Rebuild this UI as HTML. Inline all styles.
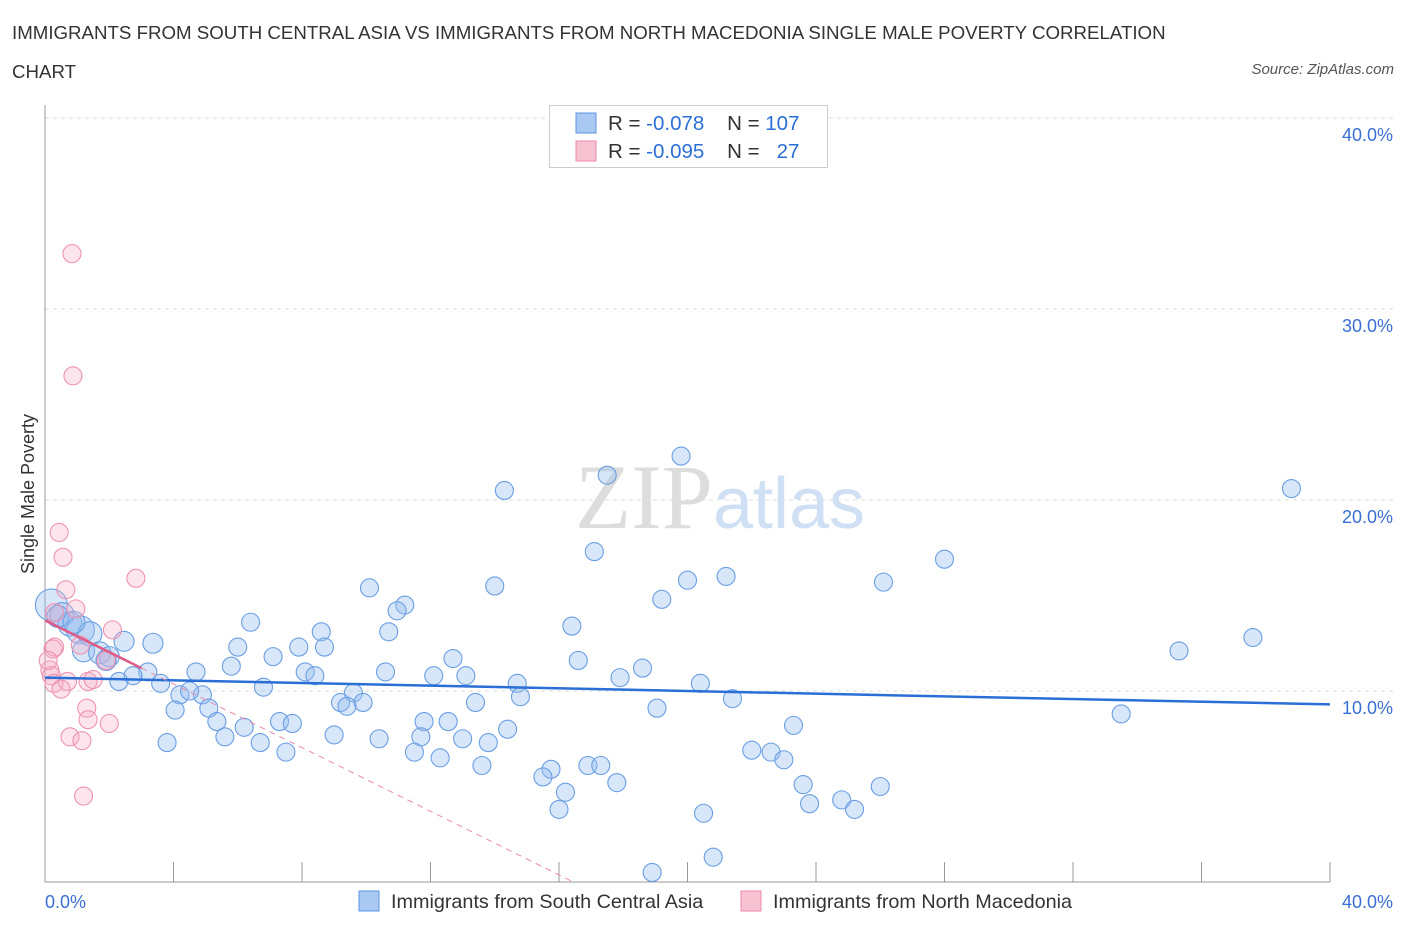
<!DOCTYPE html>
<html><head><meta charset="utf-8">
<style>
body{margin:0;background:#fff;font-family:"Liberation Sans",sans-serif;}
#wrap{position:relative;width:1406px;height:930px;overflow:hidden;}
.t{position:absolute;color:#333;font-size:18.7px;}
</style></head><body>
<div id="wrap">
<div class="t" style="left:12px;top:22px;">IMMIGRANTS FROM SOUTH CENTRAL ASIA VS IMMIGRANTS FROM NORTH MACEDONIA SINGLE MALE POVERTY CORRELATION</div>
<div class="t" style="left:12px;top:61px;">CHART</div>
<div class="t" style="right:12px;top:61px;font-size:15px;font-style:italic;color:#555;">Source: ZipAtlas.com</div>
<svg id="svg" width="1406" height="930" style="position:absolute;left:0;top:0"></svg>
</div>
<script>
const xTicks=[0,4,8,12,16,20,24,28,32,36,40];
const yTicks=[10,20,30,40];
const yTickLabels=["10.0%","20.0%","30.0%","40.0%"];
const blueX=[19.8,14.3,17.5,38.8,17.1,28.0,10.1,14.0,20.0,21.2,26.1,19.2,11.2,10.96,6.4,16.4,8.6,10.7,2.46,3.36,6.0,7.9,8.7,35.3,37.6,7.1,12.7,16.6,18.6,4.7,5.8,8.1,8.4,10.6,12.1,13.1,17.9,3.2,2.74,2.3,3.6,6.8,14.7,20.4,4.2,4.9,9.6,4.5,14.8,21.4,9.2,9.9,13.4,4.05,5.1,9.4,19.05,33.5,5.35,7.3,7.7,11.8,12.55,23.3,6.2,14.4,5.6,9.0,10.4,11.7,13.0,3.8,6.7,13.8,7.5,11.5,22.0,22.6,12.3,23.0,13.6,15.75,16.9,17.3,15.5,17.8,23.6,26.0,16.2,24.8,23.8,16.0,25.2,20.5,20.8,18.9,0.2,0.53,0.78,1.1,1.4,1.2,1.7,2.0,1.9,0.4,0.9];
const blueY=[22.3,20.5,21.3,20.6,17.3,16.9,15.4,15.5,15.8,16.0,15.7,14.8,14.5,14.2,13.6,13.4,13.1,13.1,12.6,12.5,12.3,12.3,12.3,12.1,12.8,11.8,11.7,11.6,11.2,11.0,11.3,11.0,10.8,11.0,10.8,10.8,10.7,11.0,10.8,10.5,10.4,10.2,10.4,10.4,9.8,9.8,9.9,10.0,9.7,9.6,9.4,9.4,9.4,9.0,9.1,9.2,9.1,8.8,8.4,8.4,8.3,8.4,8.4,8.2,8.1,8.0,7.6,7.7,7.5,7.6,7.5,7.3,7.3,7.3,6.8,6.8,6.9,6.8,6.5,6.4,6.1,5.9,6.1,6.1,5.5,5.2,5.1,5.0,4.7,4.3,4.1,3.8,3.8,3.6,1.3,0.5,14.5,14.0,13.5,13.2,13.0,12.1,12.0,11.8,11.6,13.9,13.6];
const blueR=[9,9,9,9,9,9,9,9,9,9,9,9,9,9,9,9,9,9,10,10,9,9,9,9,9,9,9,9,9,9,9,9,9,9,9,9,9,9,9,9,9,9,9,9,9,9,9,9,9,9,9,9,9,9,9,9,9,9,9,9,9,9,9,9,9,9,9,9,9,9,9,9,9,9,9,9,9,9,9,9,9,9,9,9,9,9,9,9,9,9,9,9,9,9,9,9,16,12,12,14,12,11,11,10,10,11,11];
const pinkX=[0.84,0.87,0.44,0.56,2.83,0.65,0.96,0.3,2.1,0.3,1.1,0.25,1.9,0.15,0.2,0.28,0.7,0.5,1.34,1.5,1.3,1.34,2.0,0.78,1.15,1.2,0.1];
const pinkY=[32.9,26.5,18.3,17.0,15.9,15.3,14.3,14.1,13.2,12.3,12.4,12.2,11.6,11.1,10.8,10.4,10.5,10.1,10.5,10.6,9.1,8.5,8.3,7.6,7.4,4.5,11.6];
const blueTrend=[10.7,9.3];
const pinkTrend=[13.7,-0.833];
const X=v=>45+v*(1285/40), Y=v=>882-v*19.1;
const svg=document.getElementById('svg'),NS='http://www.w3.org/2000/svg';
function mk(t,a,p){const e=document.createElementNS(NS,t);for(const k in a)e.setAttribute(k,a[k]);(p||svg).appendChild(e);return e;}
yTicks.forEach((v,i)=>{
 const g=mk('line',{x1:45,x2:1395,y1:Y(v),y2:Y(v),stroke:'#ddd','stroke-dasharray':'4,4'});
 
 
 const t=mk('text',{x:1393,y:Y(v)+23,'text-anchor':'end',fill:'#3a6fd4','font-size':18});
 t.textContent=yTickLabels[i];
 
 
});
const ya=mk('line',{x1:45,x2:45,y1:105,y2:882,stroke:'#999'});


const xa=mk('line',{x1:45,x2:1330,y1:882,y2:882,stroke:'#999'});


xTicks.forEach(v=>{const l=mk('line',{x1:X(v),x2:X(v),y1:862,y2:882,stroke:'#999'});
 
 });
[[45,'start','0.0%'],[1393,'end','40.0%']].forEach(a=>{const t=mk('text',{x:a[0],y:908,'text-anchor':a[1],fill:'#3a6fd4','font-size':18});t.textContent=a[2];
 
 });
const yt=mk('text',{x:34,y:494,transform:'rotate(-90 34 494)','text-anchor':'middle',fill:'#333','font-size':18});
yt.textContent='Single Male Poverty';


const wm=mk('text',{x:720,y:528,'text-anchor':'middle','font-size':92});
wm.innerHTML='<tspan fill="#ddd" font-family="Liberation Serif">ZIP</tspan><tspan fill="#cfe0f5" font-size="72">atlas</tspan>';


blueX.forEach((x,i)=>{const c=mk('circle',{cx:X(x),cy:Y(blueY[i]),r:blueR[i],fill:'rgba(150,188,238,0.38)',stroke:'#6a9fe3','stroke-width':1.1});
 
 });
pinkX.forEach((x,i)=>{const c=mk('circle',{cx:X(x),cy:Y(pinkY[i]),r:9,fill:'rgba(245,175,198,0.32)',stroke:'#ee93b0','stroke-width':1.1});
 
 });
const bt=mk('line',{x1:X(0),y1:Y(blueTrend[0]),x2:X(40),y2:Y(blueTrend[1]),stroke:'#2a6fd6','stroke-width':2.5});


const pz=-pinkTrend[0]/pinkTrend[1];
const pd=mk('line',{x1:X(3),y1:Y(pinkTrend[0]+pinkTrend[1]*3),x2:X(pz),y2:Y(0),stroke:'#eb8aa8','stroke-width':1,'stroke-dasharray':'6,5'});


const ps=mk('line',{x1:X(0),y1:Y(pinkTrend[0]),x2:X(3),y2:Y(pinkTrend[0]+pinkTrend[1]*3),stroke:'#e05a85','stroke-width':2.5});


const lg=mk('g',{});


mk('rect',{x:549.5,y:105.5,width:278,height:62,fill:'#fff',stroke:'#ccc'},lg);
[['#a9c8f2','#5b95e0','-0.078','107',123],['#f7c3d3','#eb8aa8','-0.095','  27',151]].forEach(r=>{
 mk('rect',{x:576,y:r[4]-10,width:20,height:20,fill:r[0],stroke:r[1]},lg);
 const t=mk('text',{x:608,y:r[4]+7,'font-size':20.5,fill:'#333'},lg);
 t.innerHTML='R = <tspan fill="#2a6fd6">'+r[2]+'</tspan>    N = <tspan fill="#2a6fd6">'+r[3]+'</tspan>';
 t.setAttribute('style','white-space:pre');
});
[['#a9c8f2','#5b95e0',359,391,'Immigrants from South Central Asia'],['#f7c3d3','#eb8aa8',741,773,'Immigrants from North Macedonia']].forEach(r=>{
 const rc=mk('rect',{x:r[2],y:891,width:20,height:20,fill:r[0],stroke:r[1]});
 
 
 const t=mk('text',{x:r[3],y:908,'font-size':19.8,fill:'#333'});t.textContent=r[4];
 
 
});
</script>
</body></html>
